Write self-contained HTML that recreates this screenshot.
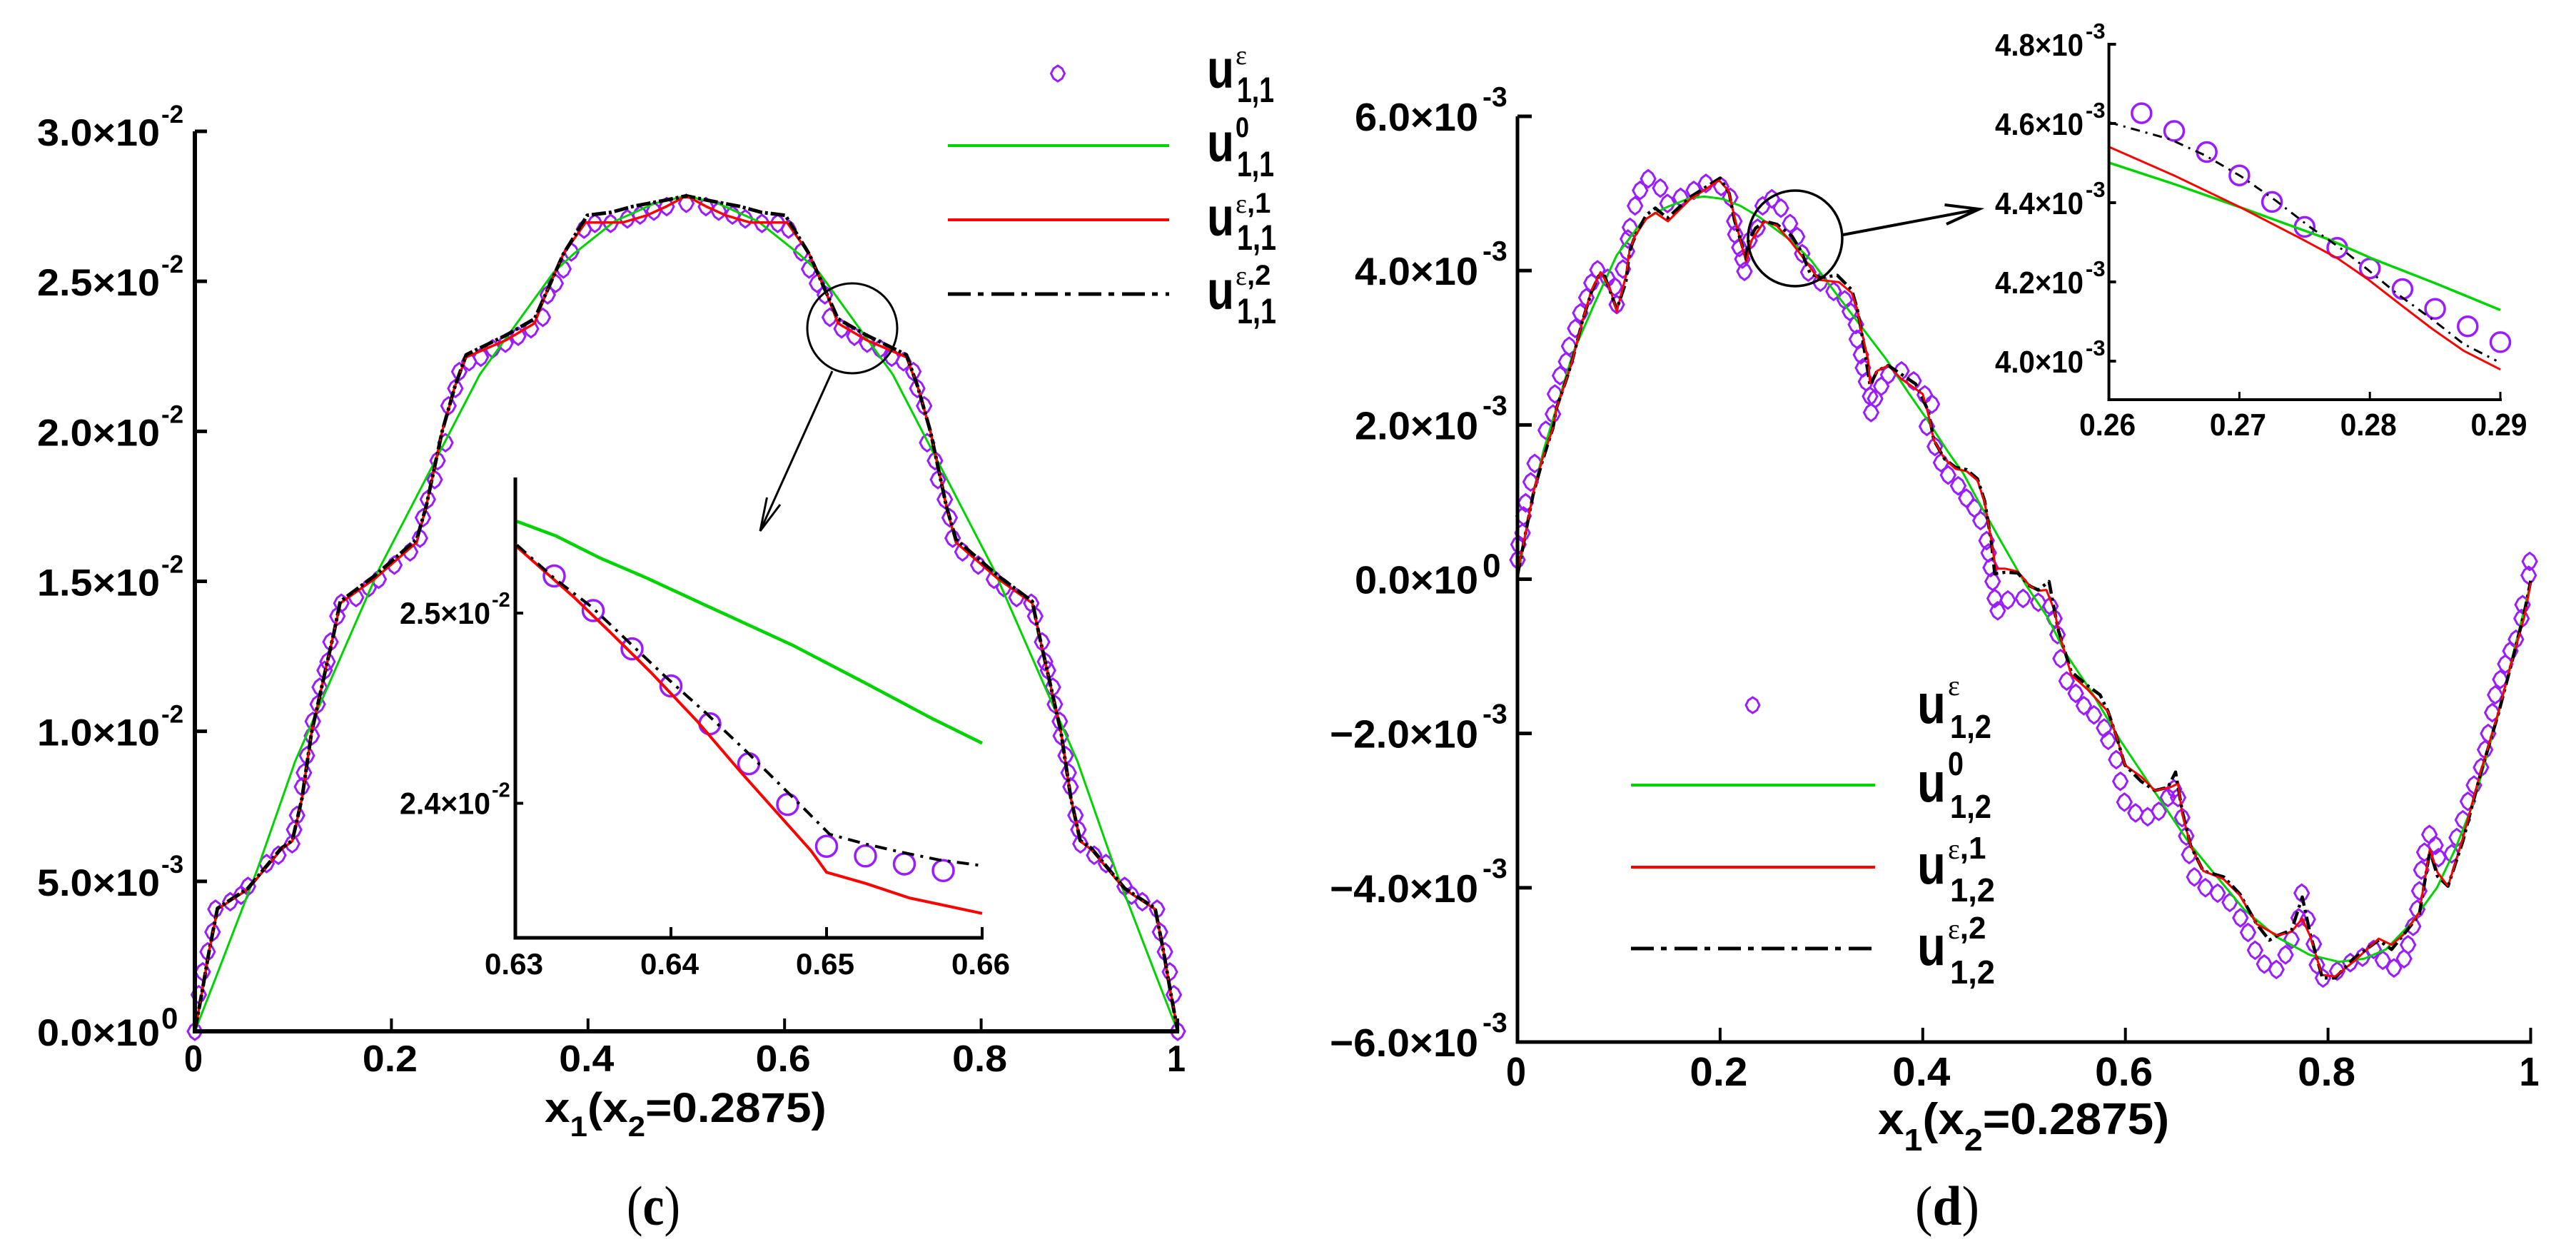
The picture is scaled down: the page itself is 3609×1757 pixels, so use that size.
<!DOCTYPE html>
<html lang="en">
<head>
<meta charset="utf-8">
<title>Displacement derivative profiles along x1 at x2=0.2875</title>
<style>
html,body{margin:0;padding:0;background:#fff;}
svg{display:block;}
text{font-family:"Liberation Sans",sans-serif;font-weight:bold;fill:#000;}
.eps{font-family:"Liberation Serif",serif;font-weight:normal;}
.cap{font-family:"Liberation Serif",serif;font-weight:normal;}
</style>
</head>
<body>
<svg id="figure" xmlns="http://www.w3.org/2000/svg" width="3609" height="1757" viewBox="0 0 3609 1757">
<rect x="0" y="0" width="3609" height="1757" fill="#fff"/>

<g id="panel-c"></g>
<g id="inset-c"></g>
<g id="panel-d"></g>
<g id="inset-d"></g>

<g>
  <polygon points="1482,92 1488,96 1491.5,103 1488,110 1482,114 1476,110 1472.5,103 1476,96" fill="none" stroke="#9a1cff" stroke-width="3"/>
  <line x1="1328" y1="204" x2="1638" y2="204" stroke="#00d400" stroke-width="4"/>
  <line x1="1328" y1="308" x2="1638" y2="308" stroke="#ff0000" stroke-width="4"/>
  <line x1="1328" y1="412" x2="1638" y2="412" stroke="#000" stroke-width="5" stroke-dasharray="32 10 8 11"/>
  <g>
    <text x="1691" y="123" font-size="76" textLength="38" lengthAdjust="spacingAndGlyphs">u</text>
    <text x="1731" y="90" class="eps" font-size="38">ε</text>
    <text x="1733" y="143" font-size="50" textLength="52" lengthAdjust="spacingAndGlyphs">1,1</text>
  </g>
  <g>
    <text x="1691" y="226" font-size="76" textLength="38" lengthAdjust="spacingAndGlyphs">u</text>
    <text x="1731" y="192" font-size="40" textLength="19" lengthAdjust="spacingAndGlyphs">0</text>
    <text x="1733" y="247" font-size="50" textLength="52" lengthAdjust="spacingAndGlyphs">1,1</text>
  </g>
  <g>
    <text x="1691" y="330" font-size="76" textLength="38" lengthAdjust="spacingAndGlyphs">u</text>
    <text x="1731" y="298" font-size="40"><tspan class="eps" font-size="38">ε</tspan><tspan>,1</tspan></text>
    <text x="1733" y="350" font-size="50" textLength="55" lengthAdjust="spacingAndGlyphs">1,1</text>
  </g>
  <g>
    <text x="1691" y="433" font-size="76" textLength="38" lengthAdjust="spacingAndGlyphs">u</text>
    <text x="1731" y="399" font-size="40"><tspan class="eps" font-size="38">ε</tspan><tspan>,2</tspan></text>
    <text x="1733" y="453" font-size="50" textLength="55" lengthAdjust="spacingAndGlyphs">1,1</text>
  </g>
</g>

<g>
  <polygon points="2455.5,977 2461.5,981 2465,988 2461.5,995 2455.5,999 2449.5,995 2446,988 2449.5,981" fill="none" stroke="#9a1cff" stroke-width="3"/>
  <line x1="2285" y1="1100" x2="2627" y2="1100" stroke="#00d400" stroke-width="4"/>
  <line x1="2285" y1="1215" x2="2627" y2="1215" stroke="#ff0000" stroke-width="4"/>
  <line x1="2285" y1="1329" x2="2627" y2="1329" stroke="#000" stroke-width="5" stroke-dasharray="32 10 8 11"/>
  <g>
    <text x="2686" y="1013" font-size="78" textLength="40" lengthAdjust="spacingAndGlyphs">u</text>
    <text x="2729" y="974" class="eps" font-size="40">ε</text>
    <text x="2732" y="1034" font-size="46" textLength="58" lengthAdjust="spacingAndGlyphs">1,2</text>
  </g>
  <g>
    <text x="2686" y="1123" font-size="78" textLength="40" lengthAdjust="spacingAndGlyphs">u</text>
    <text x="2729" y="1086" font-size="46" textLength="22" lengthAdjust="spacingAndGlyphs">0</text>
    <text x="2732" y="1146" font-size="46" textLength="58" lengthAdjust="spacingAndGlyphs">1,2</text>
  </g>
  <g>
    <text x="2686" y="1238" font-size="78" textLength="40" lengthAdjust="spacingAndGlyphs">u</text>
    <text x="2729" y="1203" font-size="44"><tspan class="eps" font-size="40">ε</tspan><tspan>,1</tspan></text>
    <text x="2732" y="1263" font-size="46" textLength="63" lengthAdjust="spacingAndGlyphs">1,2</text>
  </g>
  <g>
    <text x="2686" y="1352" font-size="78" textLength="40" lengthAdjust="spacingAndGlyphs">u</text>
    <text x="2729" y="1315" font-size="44"><tspan class="eps" font-size="40">ε</tspan><tspan>,2</tspan></text>
    <text x="2732" y="1378" font-size="46" textLength="63" lengthAdjust="spacingAndGlyphs">1,2</text>
  </g>
</g>

<text transform="translate(763,1572) scale(1.10,1)" font-size="58">x<tspan font-size="40" dy="20">1</tspan><tspan dy="-20">(x</tspan><tspan font-size="40" dy="20">2</tspan><tspan dy="-20">=0.2875)</tspan></text>
<text transform="translate(2631,1589) scale(1.06,1)" font-size="62">x<tspan font-size="44" dy="23">1</tspan><tspan dy="-23">(x</tspan><tspan font-size="44" dy="23">2</tspan><tspan dy="-23">=0.2875)</tspan></text>

<text class="cap" x="878" y="1716" font-size="78" textLength="75" lengthAdjust="spacingAndGlyphs">(<tspan font-weight="bold">c</tspan>)</text>
<text class="cap" x="2683" y="1716" font-size="78" textLength="90" lengthAdjust="spacingAndGlyphs">(<tspan font-weight="bold">d</tspan>)</text>

<g>
  <circle cx="1194" cy="460" r="63" fill="none" stroke="#000" stroke-width="3"/>
  <path d="M1166,520 L1065,744 M1074.5,697 L1065,744 L1093,707" fill="none" stroke="#000" stroke-width="3"/>
</g>
<g>
  <ellipse cx="2515" cy="334" rx="66" ry="67" fill="none" stroke="#000" stroke-width="3.5"/>
  <path d="M2582,329 L2773,293 M2724.5,287 L2773,293 L2727,314" fill="none" stroke="#000" stroke-width="4"/>
</g>

<script>
/* ---------- panel (c) main chart values: x is x1, y in units of 1e-3 ---------- */
const cXTicks=[0,0.2,0.4,0.6,0.8,1];
const cXLabels=["0","0.2","0.4","0.6","0.8","1"];
const cYTicks=[0,5,10,15,20,25,30];
const cYMantissa=["0.0","5.0","1.0","1.5","2.0","2.5","3.0"];
const cYExponent=["0","-3","-2","-2","-2","-2","-2"];
const cGreenX=[0,.0214,.0636,.102,.188,.29,.365,.385,.427,.468,.5,.532,.573,.615,.635,.71,.812,.898,.9364,.9786,1];
const cGreenY=[0,1.8,5.4,9,15.45,21.9,25.3,25.9,27,27.6,27.85,27.6,27,25.9,25.3,21.9,15.45,9,5.4,1.8,0];
const cRedX=[0,.0068,.0149,.023,.0538,.0879,.0992,.109,.1187,.1316,.1414,.1479,.1835,.2257,.2354,.2516,.2646,.276,.3165,.3456,.3586,.3748,.3975,.435,.46,.48,.497,.503,.52,.54,.565,.6025,.6252,.6414,.6544,.6835,.724,.7354,.7484,.7646,.7743,.8165,.8521,.8586,.8684,.8813,.8913,.9008,.9121,.9462,.977,.9851,.9932,1];
const cRedY=[0,1.22,2.74,4.07,4.73,6.06,6.34,7.77,9.95,11.85,13.27,14.27,15.1,16.3,17.5,20,21.5,22.47,23.04,23.6,24.7,25.9,26.96,26.96,27.2,27.5,27.8,27.8,27.5,27.2,26.96,26.96,25.9,24.7,23.6,23.04,22.47,21.5,20,17.5,16.3,15.1,14.27,13.27,11.85,9.95,7.77,6.34,6.06,4.73,4.07,2.74,1.22,0];
const cBlackX=[0,.0068,.0149,.023,.0538,.0879,.0992,.109,.1187,.1316,.1414,.1479,.1835,.2257,.2354,.2516,.2646,.276,.3165,.3456,.3586,.3748,.3992,.4235,.446,.478,.5,.522,.554,.5765,.6008,.6252,.6414,.6544,.6835,.724,.7354,.7484,.7646,.7743,.8165,.8521,.8586,.8684,.8813,.8913,.9008,.9121,.9462,.977,.9851,.9932,1];
const cBlackY=[0,1.22,2.74,4.1,4.76,6.1,6.36,7.77,9.95,11.85,13.27,14.33,15.2,16.4,17.5,20,21.5,22.55,23.2,23.75,24.7,25.9,27.2,27.3,27.5,27.7,27.85,27.7,27.5,27.3,27.2,25.9,24.7,23.75,23.2,22.55,21.5,20,17.5,16.4,15.2,14.33,13.27,11.85,9.95,7.77,6.36,6.1,4.76,4.1,2.74,1.22,0];
const cMarkerX=[0,.004,.008,.013,.018,.021,.036,.047,.054,.073,.085,.099,.101,.104,.109,.111,.114,.119,.12,.125,.127,.132,.135,.138,.145,.149,.164,.177,.187,.203,.219,.229,.232,.237,.244,.247,.255,.258,.265,.269,.279,.291,.303,.316,.329,.342,.354,.359,.367,.375,.383,.396,.407,.423,.44,.453,.467,.48,.5,.52,.533,.547,.56,.577,.593,.604,.617,.625,.633,.641,.646,.658,.671,.684,.697,.709,.721,.731,.735,.742,.745,.753,.756,.763,.768,.771,.781,.797,.813,.823,.836,.851,.855,.862,.865,.868,.873,.875,.88,.881,.886,.889,.891,.896,.899,.901,.915,.927,.946,.953,.964,.979,.982,.987,.992,.996,1];
const cMarkerY=[0,1.22,1.98,2.65,3.31,4.07,4.32,4.54,4.83,5.59,5.87,6.25,6.72,7.2,8.15,8.62,9.19,9.85,10.33,10.9,11.47,12.03,12.32,12.98,13.84,14.27,14.46,14.79,15.07,15.54,15.98,16.44,17.12,17.73,18.39,19.02,19.62,20.85,21.43,21.99,22.32,22.47,22.75,22.94,23.17,23.42,23.8,24.55,24.93,25.41,25.98,26.74,26.93,26.93,27.08,27.21,27.34,27.49,27.6,27.49,27.34,27.21,27.08,26.93,26.93,26.74,25.98,25.41,24.93,24.55,23.8,23.42,23.17,22.94,22.75,22.47,22.32,21.99,21.43,20.85,19.62,19.02,18.39,17.73,17.12,16.44,15.98,15.54,15.07,14.79,14.46,14.27,13.84,12.98,12.32,12.03,11.47,10.9,10.33,9.85,9.19,8.62,8.15,7.2,6.72,6.25,5.87,5.59,4.83,4.54,4.32,4.07,3.31,2.65,1.98,1.22,0];

/* ---------- panel (c) inset values: x is x1, y in units of 1e-2 ---------- */
const ciXTicks=[0.63,0.64,0.65,0.66];
const ciXLabels=["0.63","0.64","0.65","0.66"];
const ciYTicks=[2.4,2.5];
const ciYMantissa=["2.4","2.5"];
const ciYExponent=["-2","-2"];
const ciGreenX=[.6301,.6326,.6354,.6384,.6422,.6478,.6525,.6567,.66];
const ciGreenY=[2.5482,2.5406,2.5291,2.5186,2.5042,2.4832,2.4632,2.4449,2.4316];
const ciRedX=[.6301,.6338,.6361,.6387,.6417,.6445,.6469,.649,.65,.6525,.6553,.66];
const ciRedY=[2.5348,2.5081,2.4899,2.4689,2.443,2.4163,2.3943,2.3751,2.3637,2.3579,2.3503,2.3421];
const ciBlackX=[.6301,.6326,.6349,.637,.6396,.6422,.6448,.6475,.6502,.6525,.6548,.6572,.66];
const ciBlackY=[2.5358,2.5176,2.5033,2.487,2.4669,2.4478,2.4277,2.4058,2.3837,2.3786,2.3743,2.3703,2.3672];
const ciMarkerX=[.6325,.635,.6375,.64,.6425,.645,.6475,.65,.6525,.655,.6575];
const ciMarkerY=[2.5195,2.5013,2.4812,2.4617,2.4418,2.4208,2.3994,2.3774,2.3723,2.3681,2.3646];

/* ---------- panel (d) main chart values: x is x1, y in units of 1e-3 ---------- */
const dXTicks=[0,0.2,0.4,0.6,0.8,1];
const dXLabels=["0","0.2","0.4","0.6","0.8","1"];
const dYTicks=[-6,-4,-2,0,2,4,6];
const dYMantissa=["\u22126.0","\u22124.0","\u22122.0","0.0","2.0","4.0","6.0"];
const dYExponent=["-3","-3","-3","0","-3","-3","-3"];
const dGreenX=[0,.0155,.026,.055,.0766,.098,.1233,.145,.17,.1844,.2024,.22,.238,.2707,.29,.303,.339,.364,.3857,.4037,.425,.44,.454,.475,.5016,.523,.541,.566,.595,.6275,.642,.6634,.688,.717,.7495,.782,.8106,.8357,.857,.882,.9075,.9255,.9436,.968,.985,1];
const dGreenY=[0,1.12,1.68,2.94,3.59,4.2,4.64,4.81,4.94,4.96,4.93,4.84,4.7,4.38,4.13,3.9,3.28,2.85,2.42,2.08,1.65,1.37,1.03,.54,-.07,-.49,-.96,-1.45,-2.09,-2.73,-3.01,-3.43,-3.82,-4.28,-4.64,-4.87,-4.96,-4.92,-4.8,-4.46,-4,-3.5,-2.9,-1.75,-.85,-.05];
const dRedX=[0,.008,.0155,.0244,.035,.0388,.0496,.055,.064,.073,.082,.091,.098,.107,.1107,.116,.127,.136,.1485,.17,.199,.208,.213,.22,.2257,.231,.2437,.256,.2707,.285,.2976,.3174,.33,.3354,.339,.346,.348,.355,.366,.3785,.4,.4055,.411,.4216,.4324,.4432,.454,.461,.4648,.468,.472,.4814,.4937,.5058,.514,.522,.53,.534,.5465,.5627,.583,.591,.5995,.6155,.629,.644,.652,.656,.6645,.6767,.697,.713,.7295,.75,.764,.7746,.7824,.794,.807,.825,.85,.8627,.875,.89,.9005,.908,.9184,.933,.951,.968,.981,.9935,1];
const dRedY=[.1,.6,1.12,1.55,1.96,2.23,2.64,2.88,3.34,3.745,3.98,3.78,3.47,3.93,4.27,4.45,4.67,4.75,4.64,4.92,5.17,5.04,4.76,4.39,4.115,4.39,4.64,4.58,4.36,4.115,3.88,3.85,3.71,3.5,3.25,2.85,2.54,2.7,2.77,2.6,2.4,2.14,1.8,1.556,1.43,1.4,1.28,1,.72,.476,.137,.136,.1,-.09,-.15,-.14,-.405,-.67,-1.24,-1.43,-1.72,-2.03,-2.41,-2.56,-2.74,-2.7,-2.65,-3.04,-3.46,-3.78,-3.89,-4.1,-4.47,-4.62,-4.57,-4.4,-4.63,-5.13,-5.15,-4.96,-4.66,-4.74,-4.6,-4.32,-3.5,-3.8,-3.98,-3.36,-2.48,-1.73,-1.08,-.5,-.05];
const dBlackX=[0,.008,.0155,.0244,.035,.0388,.0496,.055,.064,.073,.08,.086,.098,.107,.1107,.116,.127,.136,.148,.17,.2,.209,.214,.2257,.228,.235,.244,.256,.2707,.28,.289,.2994,.3156,.33,.3354,.339,.348,.355,.366,.393,.4055,.411,.4216,.4324,.4432,.454,.461,.4648,.468,.471,.4814,.4937,.5058,.514,.5246,.53,.534,.5465,.5627,.575,.583,.591,.5995,.6155,.629,.642,.6495,.656,.6645,.6767,.697,.713,.7295,.742,.75,.764,.7746,.7824,.7944,.807,.825,.85,.8627,.875,.89,.9005,.908,.9184,.933,.951,.968,.981,.9935,1];
const dBlackY=[.05,.6,1.1,1.52,1.96,2.23,2.64,2.88,3.34,3.72,3.93,3.93,3.5,3.85,4.25,4.45,4.72,4.81,4.68,4.95,5.2,5,4.66,4.15,4.39,4.55,4.64,4.6,4.45,4.25,3.96,3.91,3.94,3.75,3.5,3.25,2.51,2.7,2.77,2.53,2.18,1.8,1.556,1.45,1.42,1.3,1.02,.72,.45,.07,.09,.08,-.09,-.14,-.03,-.405,-.67,-1.2,-1.38,-1.5,-1.72,-2.03,-2.41,-2.62,-2.74,-2.7,-2.5,-3,-3.46,-3.78,-3.86,-4.08,-4.47,-4.68,-4.62,-4.55,-4.12,-4.6,-5.17,-5.17,-4.92,-4.68,-4.8,-4.6,-4.35,-3.52,-3.85,-3.98,-3.4,-2.5,-1.75,-1.1,-.45,-.02];
const dMarkerX=[0,.001,.005,.006,.008,.013,.017,.028,.035,.037,.042,.048,.051,.057,.062,.068,.073,.079,.089,.096,.098,.104,.108,.109,.111,.116,.121,.129,.141,.148,.161,.174,.186,.201,.21,.214,.215,.219,.222,.224,.229,.237,.242,.251,.26,.269,.276,.281,.287,.299,.312,.323,.328,.334,.335,.339,.341,.344,.348,.349,.353,.359,.366,.379,.391,.402,.409,.404,.412,.418,.425,.435,.443,.451,.457,.463,.465,.467,.469,.471,.474,.484,.499,.514,.526,.53,.533,.536,.542,.551,.559,.569,.579,.583,.591,.595,.599,.61,.622,.633,.642,.648,.652,.656,.66,.663,.668,.679,.691,.703,.7135,.721,.728,.737,.749,.758,.764,.771,.774,.78,.786,.789,.795,.809,.822,.834,.845,.854,.865,.875,.879,.884,.888,.89,.892,.895,.9,.906,.909,.922,.927,.933,.938,.944,.951,.955,.958,.962,.965,.97,.975,.98,.9855,.991,.992,.998,.999];
const dMarkerY=[.25,.45,.6,.82,.99,1.26,1.5,1.93,2.14,2.4,2.64,2.82,3.02,3.25,3.45,3.65,3.84,4.01,3.9,3.79,3.56,4.02,4.25,4.41,4.56,4.84,5.04,5.19,5.07,4.87,4.95,5.04,5.13,5.09,4.95,4.64,4.47,4.3,4.15,3.99,4.39,4.55,4.84,4.93,4.81,4.61,4.44,4.22,3.98,3.85,3.73,3.62,3.47,3.3,3.11,2.91,2.74,2.56,2.37,2.16,2.34,2.5,2.65,2.7,2.57,2.39,2.27,1.98,1.72,1.51,1.35,1.21,1.05,.92,.76,.5,.34,.15,-.03,-.25,-.41,-.27,-.25,-.3,-.35,-.51,-.72,-1.03,-1.32,-1.48,-1.64,-1.76,-1.93,-2.09,-2.34,-2.62,-2.89,-3.03,-3.08,-3.01,-2.83,-2.72,-2.83,-3.09,-3.33,-3.57,-3.86,-4,-4.07,-4.19,-4.39,-4.58,-4.81,-4.99,-5.06,-4.87,-4.67,-4.39,-4.07,-4.41,-4.73,-5,-5.17,-5.08,-4.97,-4.9,-4.8,-4.94,-5.04,-4.92,-4.74,-4.5,-4.28,-4.04,-3.77,-3.54,-3.31,-3.45,-3.61,-3.56,-3.35,-3.12,-2.88,-2.67,-2.44,-2.21,-2,-1.73,-1.5,-1.3,-1.1,-.93,-.78,-.51,-.33,.05,.23];

/* ---------- panel (d) inset values: x is x1, y in units of 1e-3 ---------- */
const diXTicks=[0.26,0.27,0.28,0.29];
const diXLabels=["0.26","0.27","0.28","0.29"];
const diYTicks=[4.0,4.2,4.4,4.6,4.8];
const diYMantissa=["4.0","4.2","4.4","4.6","4.8"];
const diYExponent=["-3","-3","-3","-3","-3"];
const diGreenX=[.26,.2651,.2701,.2768,.2801,.2852,.29];
const diGreenY=[4.501,4.446,4.388,4.308,4.26,4.194,4.129];
const diRedX=[.26,.2651,.2701,.2748,.2775,.2798,.2825,.2848,.2872,.29];
const diRedY=[4.541,4.467,4.388,4.308,4.26,4.208,4.139,4.081,4.026,3.979];
const diBlackX=[.26,.2647,.2674,.2701,.2728,.2754,.2778,.2798,.2821,.2848,.2872,.2897];
const diBlackY=[4.603,4.56,4.519,4.467,4.405,4.339,4.284,4.232,4.17,4.105,4.043,4.001];
const diMarkerX=[.2625,.265,.2675,.27,.2725,.275,.2775,.28,.2825,.285,.2875,.29];
const diMarkerY=[4.626,4.581,4.528,4.469,4.402,4.339,4.286,4.234,4.182,4.132,4.088,4.048];

/* ---------- drawing ---------- */
const SVGNS='http://www.w3.org/2000/svg';
function linear(d0,d1,r0,r1){return function(v){return r0+(v-d0)*(r1-r0)/(d1-d0);};}
function make(tag,parent,attrs){
  const el=document.createElementNS(SVGNS,tag);
  for(const k in attrs){el.setAttribute(k,attrs[k]);}
  parent.appendChild(el);
  return el;
}
function drawSeries(parent,xs,ys,sx,sy,color,width,dash,name){
  const pts=xs.map(function(x,i){return sx(x).toFixed(1)+','+sy(ys[i]).toFixed(1);}).join(' ');
  const el=make('polyline',parent,{points:pts,fill:'none',stroke:color,'stroke-width':width,'stroke-linejoin':'round'});
  if(dash){el.setAttribute('stroke-dasharray',dash);}
  
  
}
function drawDiamonds(parent,xs,ys,sx,sy,name){
  const g=make('g',parent,{fill:'none',stroke:'#9a1cff','stroke-width':3});
  
  
  xs.forEach(function(x,i){
    const cx=sx(x),cy=sy(ys[i]);
    const off=[[0,-12],[6,-7.5],[10,0],[6,7.5],[0,12],[-6,7.5],[-10,0],[-6,-7.5]];
    const el=make('polygon',g,{points:off.map(function(o){return (cx+o[0]).toFixed(1)+','+(cy+o[1]).toFixed(1);}).join(' ')});
    
    
  });
}
function drawCircles(parent,xs,ys,sx,sy,r,name){
  const g=make('g',parent,{fill:'none',stroke:'#9a1cff','stroke-width':3.5});
  
  
  xs.forEach(function(x,i){
    const el=make('circle',g,{cx:sx(x).toFixed(1),cy:sy(ys[i]).toFixed(1),r:r});
    
    
  });
}
function drawAxes(parent,p,sx,sy,xTicks,xLabels,yTicks,yMant,yExp){
  const yAxis=make('line',parent,{x1:p.left,x2:p.left,y1:p.top,y2:p.bottom+p.axisW/2,stroke:'#000','stroke-width':p.axisW});
  
  
  const xAxis=make('line',parent,{x1:p.left-p.axisW/2,x2:p.right+2,y1:p.bottom,y2:p.bottom,stroke:'#000','stroke-width':p.axisW});
  
  
  xTicks.forEach(function(t,i){
    const x=sx(t);
    const tick=make('line',parent,{x1:x,x2:x,y1:p.bottom,y2:p.bottom-p.xTickLen,stroke:'#000','stroke-width':p.xTickW});
    
    
    const lab=make('text',parent,{x:x-2,y:p.xLabelY,'text-anchor':'middle','font-size':p.xFont});
    lab.textContent=xLabels[i];
    if(xLabels[i].length>1){
      lab.setAttribute('textLength',p.xLabelW);
      lab.setAttribute('lengthAdjust','spacingAndGlyphs');
    }else{
      lab.setAttribute('textLength',p.xDigitW);
      lab.setAttribute('lengthAdjust','spacingAndGlyphs');
    }
    
    
  });
  yTicks.forEach(function(t,i){
    const y=sy(t);
    const tick=make('line',parent,{x1:p.left,x2:p.left+p.yTickLen,y1:y,y2:y,stroke:'#000','stroke-width':p.yTickW});
    
    
    const neg=yMant[i].charAt(0)==='\u2212';
    const lab=make('text',parent,{x:p.labelEnd,y:y+p.labelDy,'text-anchor':'end','font-size':p.yFont,textLength:p.yLabelW+(neg?p.minusW:0),lengthAdjust:'spacingAndGlyphs'});
    lab.textContent=yMant[i]+'\u00d710';
    
    
    const zero=yExp[i]==='0';
    const sup=make('text',parent,{x:p.labelEnd+p.supDx,y:y+(zero?p.zeroSupDy:p.supDy),'font-size':zero?p.zeroSupFont:p.supFont});
    sup.textContent=yExp[i];
    
    
  });
}

/* panel c */
(function(){
  const g=document.getElementById('panel-c');
  const sx=linear(0,1,273,1650), sy=linear(0,30,1445,184);
  drawDiamonds(g,cMarkerX,cMarkerY,sx,sy,'series-u-eps-markers');
  drawSeries(g,cGreenX,cGreenY,sx,sy,'#00d400',3,null,'series-u0-line');
  drawSeries(g,cRedX,cRedY,sx,sy,'#ff0000',3.5,null,'series-u1-line');
  drawSeries(g,cBlackX,cBlackY,sx,sy,'#000',5,'20 4 4 4','series-u2-line');
  drawSeries(g,cRedX,cRedY,sx,sy,'#ff0000',2,'3 17','series-u1-overlay');
  drawAxes(g,{left:273,right:1650,top:184,bottom:1445,axisW:6,xTickLen:18,xTickW:4,yTickLen:17,yTickW:5,xLabelY:1501,xFont:52,xLabelW:77,xDigitW:26,labelEnd:224,labelDy:20,yFont:53,yLabelW:172,minusW:35,supDx:2,supDy:-12,supFont:35,zeroSupDy:-4,zeroSupFont:42},sx,sy,cXTicks,cXLabels,cYTicks,cYMantissa,cYExponent);
})();
/* inset c */
(function(){
  const g=document.getElementById('inset-c');
  const sx=linear(.63,.66,722,1376), sy=linear(2.4,2.5,1125.5,859);
  drawCircles(g,ciMarkerX,ciMarkerY,sx,sy,14.5,'inset-c-u-eps-markers');
  drawSeries(g,ciGreenX,ciGreenY,sx,sy,'#00d400',4.5,null,'inset-c-u0-line');
  drawSeries(g,ciRedX,ciRedY,sx,sy,'#ff0000',4,null,'inset-c-u1-line');
  drawSeries(g,ciBlackX,ciBlackY,sx,sy,'#000',4,'17 9 4 9','inset-c-u2-line');
  const a=make('g',g,{});
  
  
  drawAxes(a,{left:722,right:1376,top:669,bottom:1314,axisW:5,xTickLen:15,xTickW:4,yTickLen:11,yTickW:4,xLabelY:1365,xFont:42,xLabelW:82,xDigitW:22,labelEnd:687,labelDy:15,yFont:43,yLabelW:127,minusW:0,supDx:2,supDy:-9,supFont:29,zeroSupDy:0,zeroSupFont:29},sx,sy,ciXTicks,ciXLabels,ciYTicks,ciYMantissa,ciYExponent);
})();
/* panel d */
(function(){
  const g=document.getElementById('panel-d');
  const sx=linear(0,1,2126,3545.5), sy=linear(-6,6,1460,163);
  drawDiamonds(g,dMarkerX,dMarkerY,sx,sy,'series-u-eps-markers');
  drawSeries(g,dGreenX,dGreenY,sx,sy,'#00d400',3,null,'series-u0-line');
  drawSeries(g,dRedX,dRedY,sx,sy,'#ff0000',3,null,'series-u1-line');
  drawSeries(g,dBlackX,dBlackY,sx,sy,'#000',4.5,'18 6 4 6','series-u2-line');
  drawSeries(g,dRedX,dRedY,sx,sy,'#ff0000',2.6,'24 13','series-u1-overlay');
  drawAxes(g,{left:2126,right:3545.5,top:163,bottom:1460,axisW:5,xTickLen:20,xTickW:4,yTickLen:20,yTickW:5,xLabelY:1521,xFont:57,xLabelW:81,xDigitW:28,labelEnd:2071,labelDy:20,yFont:55,yLabelW:173,minusW:35,supDx:6,supDy:-14,supFont:39,zeroSupDy:-3,zeroSupFont:46},sx,sy,dXTicks,dXLabels,dYTicks,dYMantissa,dYExponent);
})();
/* inset d */
(function(){
  const g=document.getElementById('inset-d');
  const sx=linear(.26,.29,2954.6,3503), sy=linear(4,4.8,506,62);
  drawCircles(g,diMarkerX,diMarkerY,sx,sy,13.5,'inset-d-u-eps-markers');
  drawSeries(g,diGreenX,diGreenY,sx,sy,'#00d400',3.5,null,'inset-d-u0-line');
  drawSeries(g,diRedX,diRedY,sx,sy,'#ff0000',3,null,'inset-d-u1-line');
  drawSeries(g,diBlackX,diBlackY,sx,sy,'#000',3,'13 8 3 8','inset-d-u2-line');
  const a=make('g',g,{});
  
  
  drawAxes(a,{left:2954.6,right:3503,top:60,bottom:560,axisW:4,xTickLen:11,xTickW:3,yTickLen:10,yTickW:4,xLabelY:610,xFont:44,xLabelW:79,xDigitW:22,labelEnd:2919,labelDy:16,yFont:44,yLabelW:124,minusW:0,supDx:3,supDy:-8,supFont:31,zeroSupDy:0,zeroSupFont:31},sx,sy,diXTicks,diXLabels,diYTicks,diYMantissa,diYExponent);
})();
</script>
</svg>
</body>
</html>
